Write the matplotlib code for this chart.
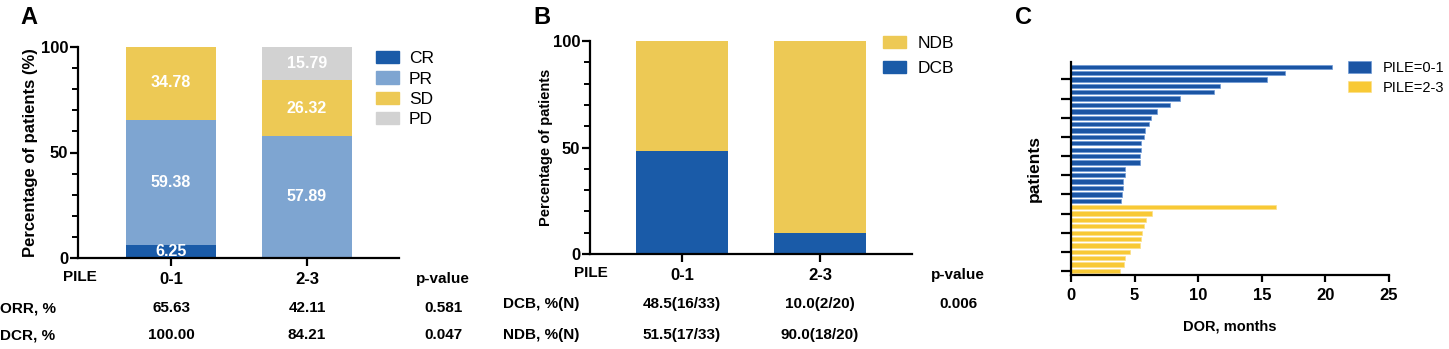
import numpy as np
import matplotlib
matplotlib.use('Agg')
import matplotlib.pyplot as plt
from matplotlib.patches import Patch

plt.rcParams['font.family'] = ['Liberation Sans', 'DejaVu Sans']

W, H = 1449, 349

# panel A: response by PILE group
groups = ['0-1', '2-3']
resp_names = ['CR', 'PR', 'SD', 'PD']
cr = [6.25, 0.0]
pr = [59.38, 57.89]
sd = [34.78, 26.32]
pd_ = [0.0, 15.79]
orr = ['65.63', '42.11']
dcr = ['100.00', '84.21']
p_orr = '0.581'
p_dcr = '0.047'

# panel B: clinical benefit
dcb = [48.5, 10.0]
ndb = [51.5, 90.0]
dcb_txt = ['48.5(16/33)', '10.0(2/20)']
ndb_txt = ['51.5(17/33)', '90.0(18/20)']
p_dcb = '0.006'

# panel C: duration of response (months), top to bottom
dor_01 = [20.5, 16.8, 15.4, 11.7, 11.25, 8.6, 7.75, 6.8, 6.25, 6.1, 5.85,
          5.75, 5.52, 5.47, 5.4, 5.4, 4.25, 4.24, 4.08, 4.05, 4.03, 3.97]
dor_23 = [16.15, 6.35, 5.88, 5.7, 5.57, 5.47, 5.39, 4.6, 4.26, 4.18, 3.82]

c_cr = '#1a5ba8'
c_pr = '#7ea5d1'
c_sd = '#edc955'
c_pd = '#d2d2d2'
c_blue = '#1b55a4'
c_yel = '#f8c935'


def axes_px(x0, y0, x1, y1):
    return fig.add_axes([x0 / W, 1 - y1 / H, (x1 - x0) / W, (y1 - y0) / H])


def style(ax):
    for s in ['top', 'right']:
        ax.spines[s].set_visible(False)
    for s in ['left', 'bottom']:
        ax.spines[s].set_linewidth(1.6)
    ax.tick_params(width=1.6, length=6, labelsize=12)
    ax.tick_params(which='minor', width=1.4, length=4)
    ax.tick_params(axis='y', pad=1)
    for lab in ax.get_xticklabels() + ax.get_yticklabels():
        lab.set_fontweight('bold')


fig = plt.figure(figsize=(W / 100, H / 100), dpi=100)
x = np.arange(len(groups))
bw = 0.66

# ---------------- A ----------------
ax = axes_px(78, 47, 399, 258)
bottom = np.zeros(2)
for vals, col in zip([cr, pr, sd, pd_], [c_cr, c_pr, c_sd, c_pd]):
    ax.bar(x, vals, bw, bottom=bottom, color=col)
    for i, v in enumerate(vals):
        if v > 0:
            ax.text(x[i], bottom[i] + v / 2, f'{v:.2f}', ha='center', va='center',
                    color='white', fontsize=11.5, fontweight='bold')
    bottom = bottom + np.array(vals)
ax.set_ylim(0, 100)
ax.set_xlim(-0.684, 1.676)
ax.set_yticks([0, 50, 100])
ax.set_yticks(np.arange(0, 101, 10), minor=True)
ax.set_xticks(x)
ax.set_xticklabels(groups)
ax.set_ylabel('Percentage of patients (%)', fontsize=12, fontweight='bold', labelpad=2)
style(ax)
ax.tick_params(axis='x', pad=4)
ax.tick_params(axis='x', which='minor', length=0)
tr = ax.get_xaxis_transform()
ax.text(-0.67, -0.09, 'PILE', transform=tr, ha='center', va='center', fontsize=11, fontweight='bold')
ax.text(2.0, -0.10, 'p-value', transform=tr, ha='center', va='center', fontsize=11, fontweight='bold', clip_on=False)
for row, vals, p, yy in [('ORR, %', orr, p_orr, -0.237), ('DCR, %', dcr, p_dcr, -0.365)]:
    ax.text(-1.257, yy, row, transform=tr, ha='left', va='center', fontsize=11, fontweight='bold')
    for i, v in enumerate(vals):
        ax.text(x[i], yy, v, transform=tr, ha='center', va='center', fontsize=11, fontweight='bold')
    ax.text(2.0, yy, p, transform=tr, ha='center', va='center', fontsize=11, fontweight='bold')
handles = [Patch(color=c) for c in [c_cr, c_pr, c_sd, c_pd]]
fig.legend(handles, resp_names, loc='upper left', bbox_to_anchor=(376 / W, 1 - 51 / H),
           frameon=False, fontsize=12.5, handlelength=1.3, handleheight=0.7,
           handletextpad=0.6, labelspacing=0.3, borderpad=0, borderaxespad=0)
fig.text(20 / W, 1 - 17 / H, 'A', fontsize=17, fontweight='bold', va='center', ha='left')

# ---------------- B ----------------
ax = axes_px(590, 41, 912, 254)
ax.bar(x, dcb, bw, color=c_cr)
ax.bar(x, ndb, bw, bottom=dcb, color=c_sd)
ax.set_ylim(0, 100)
ax.set_xlim(-0.667, 1.667)
ax.set_yticks([0, 50, 100])
ax.set_yticks(np.arange(0, 101, 10), minor=True)
ax.set_xticks(x)
ax.set_xticklabels(groups)
ax.set_ylabel('Percentage of patients', fontsize=10.5, fontweight='bold', labelpad=0)
style(ax)
ax.tick_params(axis='x', pad=4)
tr = ax.get_xaxis_transform()
ax.text(-0.66, -0.089, 'PILE', transform=tr, ha='center', va='center', fontsize=11, fontweight='bold')
ax.text(2.0, -0.10, 'p-value', transform=tr, ha='center', va='center', fontsize=11, fontweight='bold')
ax.text(-1.30, -0.235, 'DCB, %(N)', transform=tr, ha='left', va='center', fontsize=11, fontweight='bold')
ax.text(-1.30, -0.38, 'NDB, %(N)', transform=tr, ha='left', va='center', fontsize=11, fontweight='bold')
for i in range(2):
    ax.text(x[i], -0.235, dcb_txt[i], transform=tr, ha='center', va='center', fontsize=11, fontweight='bold')
    ax.text(x[i], -0.38, ndb_txt[i], transform=tr, ha='center', va='center', fontsize=11, fontweight='bold')
ax.text(2.0, -0.235, p_dcb, transform=tr, ha='center', va='center', fontsize=11, fontweight='bold')
handles = [Patch(color=c_sd), Patch(color=c_cr)]
fig.legend(handles, ['NDB', 'DCB'], loc='upper left', bbox_to_anchor=(883 / W, 1 - 36 / H),
           frameon=False, fontsize=12.5, handlelength=1.3, handleheight=0.7,
           handletextpad=0.7, labelspacing=0.55, borderpad=0, borderaxespad=0)
fig.text(533 / W, 1 - 17 / H, 'B', fontsize=17, fontweight='bold', va='center', ha='left')

# ---------------- C ----------------
ax = axes_px(1071, 62, 1389, 275)
n1, n2 = len(dor_01), len(dor_23)
ypos = np.arange(n1 + n2, 0, -1)
ax.barh(ypos[:n1], dor_01, 0.68, color=c_blue, edgecolor='#6f9ad6', linewidth=0.5, label='PILE=0-1')
ax.barh(ypos[n1:], dor_23, 0.68, color=c_yel, edgecolor='#fbe08a', linewidth=0.5, label='PILE=2-3')
ax.set_xlim(0, 25)
ax.set_ylim(0.37, 33.74)
ax.set_xticks(np.arange(0, 26, 5))
ax.set_yticks(np.arange(1, n1 + n2 + 1, 3))
ax.set_yticklabels([])
ax.set_xlabel('DOR, months', fontsize=10.5, fontweight='bold', labelpad=12)
ax.set_ylabel('patients', fontsize=12.5, fontweight='bold', labelpad=13)
style(ax)
ax.tick_params(axis='y', length=7)
ax.tick_params(axis='x', length=5, pad=4)
fig.legend(*ax.get_legend_handles_labels(), loc='upper left', bbox_to_anchor=(1348 / W, 1 - 61 / H),
           frameon=False, fontsize=10.5, handlelength=1.6, handleheight=0.8,
           handletextpad=0.8, labelspacing=0.4, borderpad=0, borderaxespad=0)
fig.text(1015 / W, 1 - 17 / H, 'C', fontsize=17, fontweight='bold', va='center', ha='left')

fig.savefig('out.png', dpi=100)
